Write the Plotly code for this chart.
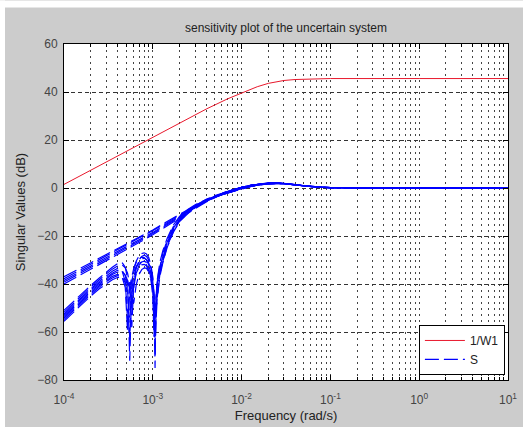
import plotly.graph_objects as go

# ---------------- data ----------------
# 1/W1 weight (dB)
W_FREQ = [1e-4, 2e-4, 5e-4, 1e-3, 2e-3, 4e-3, 7e-3, 1e-2, 1.5e-2, 2e-2, 3e-2, 4e-2, 6e-2, 1e-1, 1, 10]
W_DB = [1.5, 7.4, 15.3, 21.2, 27.1, 32.9, 37.2, 39.6, 42.2, 43.6, 44.8, 45.2, 45.5, 45.6, 45.6, 45.6]

# sensitivity samples, upper family (low-frequency part)
FA = [1e-4, 1.5e-4, 2e-4, 3e-4, 4e-4, 5e-4, 7e-4, 1e-3, 1.4e-3, 2e-3, 2.8e-3, 4e-3, 5e-3]
A1 = [-37.0, -33.6, -31.1, -27.7, -25.3, -23.3, -20.4, -17.5, -14.3, -11.0, -7.8, -4.7, -3.2]
A2 = [-37.8, -34.3, -31.8, -28.4, -25.9, -23.9, -21.0, -18.0, -14.8, -11.4, -8.2, -5.0, -3.4]
A3 = [-38.5, -35.0, -32.5, -29.0, -26.5, -24.5, -21.5, -18.5, -15.2, -11.8, -8.5, -5.2, -3.6]
A4 = [-39.2, -35.7, -33.2, -29.7, -27.1, -25.1, -22.1, -19.0, -15.6, -12.2, -8.8, -5.5, -3.8]
A5 = [-40.0, -36.5, -33.9, -30.3, -27.7, -25.7, -22.7, -19.5, -16.1, -12.6, -9.2, -5.8, -4.0]

# sensitivity samples, lower family with notches (low-frequency part)
FB = [1e-4, 1.5e-4, 2e-4, 2.5e-4, 3e-4, 3.5e-4, 4e-4, 4.5e-4, 4.9e-4, 5.2e-4,
      5.5e-4, 5.8e-4, 6.1e-4, 6.5e-4, 7e-4, 7.5e-4, 8e-4, 8.5e-4, 9e-4, 9.5e-4,
      1.0e-3, 1.03e-3, 1.06e-3, 1.09e-3, 1.12e-3, 1.16e-3, 1.2e-3, 1.3e-3, 1.45e-3, 1.7e-3,
      2e-3, 2.5e-3, 3e-3, 4e-3, 5e-3]
B1 = [-51.0, -44.8, -40.6, -37.5, -35.0, -33.0, -31.5, -31.0, -33.0, -38.0,
      -72.0, -40.0, -34.0, -30.5, -28.3, -27.3, -27.0, -27.5, -29.0, -32.0,
      -37.0, -44.0, -75.0, -45.0, -38.5, -34.0, -31.0, -26.0, -21.0, -15.5,
      -11.8, -8.8, -7.0, -4.8, -3.5]
B2 = [-51.8, -45.5, -41.3, -38.2, -35.8, -33.8, -32.5, -32.0, -33.3, -35.5,
      -40.0, -58.0, -40.0, -33.5, -30.0, -28.5, -28.0, -28.5, -30.0, -33.0,
      -38.0, -45.0, -66.0, -47.0, -40.0, -35.5, -32.5, -27.0, -21.8, -16.2,
      -12.3, -9.2, -7.3, -5.0, -3.6]
B3 = [-52.5, -46.2, -42.0, -38.9, -36.5, -34.7, -33.5, -34.5, -39.0, -55.0,
      -41.0, -36.5, -33.5, -31.0, -29.3, -28.8, -29.0, -30.0, -32.0, -35.5,
      -42.0, -58.0, -50.0, -44.0, -39.5, -36.0, -33.5, -28.0, -22.5, -16.8,
      -12.7, -9.5, -7.5, -5.1, -3.7]
B4 = [-53.0, -46.7, -42.5, -39.5, -37.2, -35.5, -34.3, -34.3, -36.5, -41.5,
      -63.0, -42.5, -37.0, -33.0, -30.5, -29.5, -29.3, -29.8, -31.3, -34.0,
      -39.0, -46.0, -60.0, -48.5, -42.0, -37.0, -34.5, -29.0, -23.0, -17.2,
      -13.0, -9.7, -7.6, -5.2, -3.7]
B5 = [-53.6, -47.3, -43.1, -40.1, -37.8, -36.0, -35.0, -35.0, -36.3, -38.5,
      -42.0, -50.0, -41.5, -35.5, -32.2, -30.8, -30.5, -31.0, -32.5, -35.0,
      -39.0, -43.5, -48.0, -55.0, -46.0, -39.5, -36.0, -30.0, -23.6, -17.6,
      -13.4, -9.9, -7.8, -5.3, -3.8]
B6 = [-54.2, -47.9, -43.7, -40.7, -38.5, -36.8, -36.0, -37.0, -41.5, -60.0,
      -43.0, -38.0, -35.0, -32.8, -31.3, -30.8, -31.0, -32.0, -34.0, -37.0,
      -42.0, -48.0, -70.0, -50.0, -43.5, -38.5, -35.5, -30.0, -24.0, -17.9,
      -13.6, -10.1, -7.9, -5.4, -3.8]
B7 = [-54.8, -48.5, -44.3, -41.3, -39.0, -37.5, -36.5, -37.0, -39.5, -44.0,
      -54.0, -44.5, -39.5, -35.5, -33.0, -32.0, -31.8, -32.5, -34.5, -38.0,
      -45.0, -62.0, -52.0, -46.0, -42.0, -38.0, -35.5, -30.5, -24.3, -18.2,
      -13.8, -10.3, -8.0, -5.5, -3.9]
B8 = [-55.5, -49.2, -45.0, -42.0, -39.8, -38.2, -37.3, -37.2, -38.0, -39.5,
      -41.5, -44.5, -48.0, -40.5, -36.0, -34.0, -33.3, -33.5, -35.0, -37.5,
      -41.5, -45.5, -52.0, -50.0, -45.5, -40.5, -37.0, -31.0, -24.8, -18.5,
      -14.0, -10.5, -8.2, -5.6, -3.9]

# common high-frequency part of the sensitivity samples
FT = [6.5e-3, 8e-3, 1e-2, 1.3e-2, 1.6e-2, 2e-2, 2.5e-2, 3e-2, 4e-2, 5e-2, 7e-2, 1e-1, 1, 10]
T1 = [-1.8, -0.8, 0.3, 1.2, 1.7, 2.0, 2.1, 1.9, 1.4, 0.9, 0.4, 0.15, 0.0, 0.0]
T2 = [-2.4, -1.3, -0.2, 0.8, 1.4, 1.8, 1.9, 1.8, 1.3, 0.8, 0.35, 0.1, 0.0, 0.0]

X_TICKS = [1e-4, 1e-3, 1e-2, 1e-1, 1, 10]
X_TICK_TEXT = ["10<sup>-4</sup>", "10<sup>-3</sup>", "10<sup>-2</sup>",
               "10<sup>-1</sup>", "10<sup>0</sup>", "10<sup>1</sup>"]
Y_TICKS = [-80, -60, -40, -20, 0, 20, 40, 60]

# ---------------- figure ----------------
FONT = "Liberation Sans, Arial, sans-serif"
fig = go.Figure()

fig.add_trace(go.Scatter(x=W_FREQ, y=W_DB, mode="lines", name="1/W1",
                         line=dict(color="#e8182c", width=1)))

samples = [(FA, A1, T1), (FA, A2, T2), (FA, A3, T1), (FA, A4, T2), (FA, A5, T1),
           (FB, B1, T1), (FB, B2, T2), (FB, B3, T1), (FB, B4, T2),
           (FB, B5, T1), (FB, B6, T2), (FB, B7, T1), (FB, B8, T2)]
for i, (f_lo, v_lo, v_hi) in enumerate(samples):
    fig.add_trace(go.Scatter(x=f_lo + FT, y=v_lo + v_hi, mode="lines", name="S",
                             legendgroup="S", showlegend=(i == 0),
                             line=dict(color="#0000ff", width=1.2, dash="14px,5px")))

minor_vals = [m * 10.0 ** e for e in range(-4, 1) for m in range(2, 10)]

fig.update_xaxes(type="log", range=[-4, 1], tickmode="array", tickvals=X_TICKS,
                 ticktext=X_TICK_TEXT, ticks="inside", ticklen=5, tickcolor="black",
                 ticklabelstandoff=9, automargin=False,
                 showline=True, linecolor="black", linewidth=1, mirror="allticks",
                 showgrid=True, gridcolor="#444444", gridwidth=1, griddash="2px,4px",
                 minor=dict(tickmode="array", tickvals=minor_vals, ticks="inside",
                            ticklen=3, tickcolor="black", showgrid=True,
                            gridcolor="#444444", gridwidth=1, griddash="2px,4px"),
                 tickfont=dict(family=FONT, size=12, color="#444444"),
                 title=dict(text="Frequency (rad/s)", standoff=4,
                            font=dict(family=FONT, size=13, color="#222222")),
                 zeroline=False)
fig.update_yaxes(range=[-80, 60], tickmode="array", tickvals=Y_TICKS,
                 ticks="inside", ticklen=5, tickcolor="black",
                 ticklabelstandoff=3, automargin=False,
                 showline=True, linecolor="black", linewidth=1, mirror="allticks",
                 showgrid=True, gridcolor="#333333", gridwidth=1, griddash="4px,3px",
                 tickfont=dict(family=FONT, size=12, color="#444444"),
                 title=dict(text="Singular Values (dB)", standoff=8,
                            font=dict(family=FONT, size=13, color="#222222")),
                 zeroline=False)

PW, PH, ML, MB = 444.0, 336.5, 64.0, 47.0
fig.update_layout(
    width=523, height=427,
    margin=dict(l=64, r=15, t=43.5, b=47, pad=0, autoexpand=False),
    paper_bgcolor="#cccccc", plot_bgcolor="white",
    title=dict(text="sensitivity plot of the uncertain system", x=0.5, xref="paper",
               xanchor="center", y=1 - 28 / 427, yref="container", yanchor="middle",
               font=dict(family=FONT, size=12, color="#222222")),
    legend=dict(x=0.993, y=0.015, xanchor="right", yanchor="bottom",
                bgcolor="white", bordercolor="black", borderwidth=1,
                font=dict(family=FONT, size=12, color="#222222"),
                tracegroupgap=0, itemwidth=40),
    showlegend=True,
    shapes=[
        dict(type="rect", xref="paper", yref="paper", layer="below", line_width=0,
             fillcolor="white", x0=-ML / PW, x1=(5 - ML) / PW,
             y0=-MB / PH, y1=(PH + 43.5) / PH),
        dict(type="rect", xref="paper", yref="paper", layer="below", line_width=0,
             fillcolor="white", x0=-ML / PW, x1=(523 - ML) / PW,
             y0=(PH + 43.5 - 7) / PH, y1=(PH + 43.5) / PH),
    ],
)

fig.write_html("out.html")
